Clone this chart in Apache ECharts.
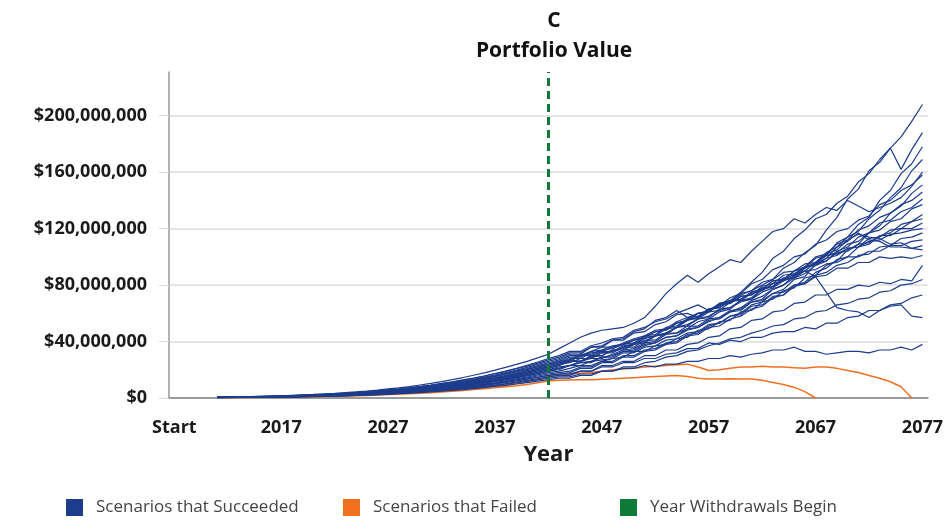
<!DOCTYPE html>
<html>
<head>
<meta charset="utf-8">
<script src="https://cdn.jsdelivr.net/npm/echarts@6.0.0/dist/echarts.min.js"></script>
<style>html,body{margin:0;padding:0;background:#fff}#c{width:946px;height:520px}</style>
</head>
<body>
<div id="c"></div>
<script>
// ---- categories / tick labels ----
const years = ['Start','2008','2009','2010','2011','2012','2013','2014','2015','2016','2017','2018','2019','2020','2021','2022','2023','2024','2025','2026','2027','2028','2029','2030','2031','2032','2033','2034','2035','2036','2037','2038','2039','2040','2041','2042','2043','2044','2045','2046','2047','2048','2049','2050','2051','2052','2053','2054','2055','2056','2057','2058','2059','2060','2061','2062','2063','2064','2065','2066','2067','2068','2069','2070','2071','2072','2073','2074','2075','2076','2077'];
const firstDataYear = '2011';
const withdrawalYear = '2042';
const yTickValues = [0, 40, 80, 120, 160, 200]; // millions of $
const yMax = 231;

// ---- series values, $ millions, 2011..2077 ----
const s01 = [0.6,0.7,0.9,1.0,1.2,1.4,1.6,1.9,2.2,2.5,2.9,3.3,3.8,4.3,4.9,5.6,6.4,7.2,8.1,9.2,10.3,11.6,13.0,14.5,16.1,17.8,19.7,21.7,23.8,26.0,28.4,31.0,35,39,43,46,48,49,50,53,57,65,74,81,87,82,88,93,98,96,104,111,118,120,127,124,130,135,133,140,136,132,135,138,142,150,160];
const s02 = [0.4,0.5,0.6,0.7,0.8,0.9,1.1,1.3,1.5,1.7,2.0,2.3,2.6,3.0,3.4,3.9,4.4,5.0,5.7,6.4,7.2,8.1,9.1,10.2,11.4,12.6,13.9,15.3,16.8,18.4,20.1,22.0,24,27,26,29,32,33,36,38,42,44,46,50,55,57,62,66,68,73,76,80,84,92,96,103,108,119,128,141,148,161,167,177,185,196,208];
const s03 = [0.5,0.5,0.6,0.7,0.8,1.0,1.1,1.3,1.5,1.8,2.0,2.3,2.7,3.1,3.5,4.0,4.6,5.2,5.9,6.6,7.5,8.4,9.4,10.5,11.7,13.0,14.4,15.9,17.5,19.3,21.1,23.0,25,28,28,32,33,36,38,41,43,47,48,53,55,60,61,67,69,75,82,89,99,104,113,119,127,130,138,143,153,159,169,177,162,176,188];
const s04 = [0.5,0.6,0.7,0.8,0.9,1.1,1.3,1.5,1.7,2.0,2.3,2.6,3.0,3.5,4.0,4.5,5.1,5.8,6.5,7.3,8.2,9.2,10.3,11.5,12.8,14.2,15.7,17.3,19.0,20.9,22.9,25.0,27,30,30,33,36,36,39,42,44,48,49,54,57,58,63,64,69,70,75,77,83,84,90,92,99,101,110,114,123,128,140,147,159,166,178];
const s05 = [0.4,0.4,0.5,0.6,0.7,0.8,0.9,1.1,1.3,1.5,1.7,2.0,2.3,2.6,3.0,3.4,3.9,4.4,5.0,5.6,6.3,7.1,8.0,9.0,10.0,11.1,12.3,13.6,15.0,16.5,18.2,20.0,22,23,26,28,28,31,34,35,39,40,45,46,49,54,56,61,63,69,70,77,79,85,85,92,96,103,107,114,118,127,133,142,149,161,169];
const s06 = [0.6,0.7,0.8,0.9,1.1,1.3,1.5,1.7,2.0,2.3,2.6,3.0,3.5,4.0,4.5,5.1,5.8,6.5,7.3,8.2,9.2,10.3,11.5,12.8,14.1,15.6,17.2,18.9,20.7,22.6,24.7,27.0,29,32,32,36,37,41,41,46,47,52,54,59,60,57,63,65,71,74,81,84,91,94,100,102,109,112,118,120,126,129,137,140,147,151,158];
const s07 = [0.3,0.4,0.5,0.5,0.6,0.7,0.8,1.0,1.1,1.3,1.5,1.8,2.1,2.4,2.7,3.1,3.5,4.0,4.5,5.1,5.7,6.4,7.2,8.0,8.9,9.9,11.0,12.2,13.5,14.9,16.4,18.0,19,21,23,23,26,28,29,33,33,37,38,42,43,48,49,54,55,61,62,68,70,76,78,85,87,94,97,105,109,117,122,131,136,145,151];
const s08 = [0.4,0.5,0.6,0.7,0.9,1.0,1.2,1.4,1.6,1.9,2.2,2.5,2.9,3.3,3.8,4.3,4.9,5.5,6.2,7.0,7.9,8.9,10.0,11.2,12.5,13.9,15.4,17.0,18.6,20.3,22.1,24.0,26,27,31,31,34,35,38,39,44,45,50,51,56,56,61,62,68,70,75,77,83,84,90,93,100,102,109,112,119,122,128,131,137,140,146];
const s09 = [0.4,0.5,0.5,0.6,0.7,0.8,1.0,1.1,1.3,1.5,1.8,2.0,2.3,2.7,3.1,3.5,4.0,4.6,5.2,5.9,6.7,7.5,8.4,9.4,10.5,11.7,13.0,14.4,15.9,17.5,19.2,21.0,23,26,26,29,30,34,34,38,39,44,45,50,51,56,57,63,64,69,71,77,79,85,87,93,95,101,103,109,111,117,119,125,127,134,137];
const s10 = [0.3,0.4,0.4,0.5,0.6,0.7,0.8,0.9,1.0,1.2,1.4,1.6,1.9,2.2,2.5,2.8,3.2,3.6,4.1,4.6,5.2,5.8,6.5,7.3,8.1,9.0,10.0,11.1,12.2,13.4,14.7,16.0,17,18,21,21,25,25,29,29,33,34,38,39,44,45,50,51,56,58,63,65,71,73,80,82,89,92,98,100,107,109,115,117,123,125,130];
const s11 = [0.5,0.6,0.6,0.7,0.8,1.0,1.1,1.3,1.5,1.8,2.1,2.4,2.7,3.1,3.6,4.1,4.6,5.2,5.9,6.6,7.4,8.3,9.3,10.4,11.6,12.9,14.3,15.8,17.4,19.2,21.0,23.0,25,26,30,30,33,33,37,38,43,44,49,50,56,57,63,64,69,69,74,76,81,83,88,90,96,97,103,104,109,110,115,115,120,120,124];
const s12 = [0.4,0.4,0.5,0.6,0.6,0.7,0.9,1.0,1.2,1.4,1.6,1.9,2.2,2.5,2.9,3.3,3.7,4.2,4.8,5.4,6.1,6.8,7.6,8.5,9.5,10.6,11.7,12.9,14.2,15.7,17.3,19.0,20,23,23,26,27,28,32,32,36,37,41,42,46,47,52,53,58,59,65,66,72,73,79,81,87,89,94,96,101,102,107,108,113,114,117];
const s13 = [0.5,0.6,0.7,0.8,1.0,1.1,1.3,1.5,1.8,2.0,2.3,2.7,3.1,3.6,4.1,4.7,5.3,6.0,6.8,7.7,8.7,9.7,10.8,12.0,13.3,14.8,16.3,18.0,19.8,21.7,23.8,26.0,28,31,31,36,36,41,42,47,49,55,57,62,57,60,61,66,67,72,73,78,79,84,85,90,91,95,96,100,100,104,104,108,108,111,112];
const s14 = [0.4,0.4,0.5,0.6,0.7,0.8,0.9,1.0,1.2,1.4,1.6,1.8,2.1,2.4,2.7,3.1,3.5,3.9,4.4,5.0,5.6,6.2,6.9,7.7,8.6,9.6,10.6,11.7,12.9,14.2,15.6,17.0,18,19,22,22,26,26,30,30,34,35,39,40,45,46,51,53,58,60,66,68,74,77,84,86,95,99,107,111,117,112,111,107,107,106,108];
const s15 = [0.5,0.5,0.6,0.7,0.8,0.9,1.0,1.2,1.4,1.6,1.9,2.2,2.5,2.9,3.3,3.8,4.3,4.9,5.5,6.2,7.0,7.9,8.9,10.0,11.2,12.5,13.8,15.2,16.7,18.3,20.1,22.0,24,25,28,28,32,32,36,36,41,41,46,46,51,51,56,57,62,63,68,69,74,75,80,81,86,87,92,92,96,96,100,99,100,99,101];
const s16 = [0.3,0.3,0.4,0.5,0.5,0.6,0.7,0.8,1.0,1.1,1.3,1.5,1.7,2.0,2.3,2.6,3.0,3.4,3.8,4.3,4.8,5.4,6.0,6.7,7.5,8.3,9.2,10.2,11.3,12.5,13.7,15.0,16,16,19,19,23,23,26,26,30,30,34,34,38,39,43,44,49,50,55,56,61,62,67,68,73,73,77,77,80,79,82,81,84,83,94];
const s17 = [0.3,0.3,0.4,0.4,0.5,0.6,0.6,0.7,0.9,1.0,1.2,1.3,1.5,1.8,2.0,2.3,2.6,3.0,3.4,3.8,4.3,4.8,5.4,6.0,6.7,7.4,8.2,9.0,9.9,10.9,11.9,13.0,14,14,16,16,19,19,22,22,25,26,29,30,33,34,37,39,42,43,46,48,51,52,56,57,61,62,66,67,70,71,75,76,80,81,84];
const s18 = [0.4,0.4,0.5,0.6,0.6,0.7,0.8,1.0,1.1,1.3,1.5,1.7,2.0,2.3,2.6,3.0,3.4,3.8,4.3,4.8,5.4,6.0,6.7,7.5,8.3,9.2,10.2,11.2,12.3,13.5,14.7,16.0,17,17,19,19,22,22,25,25,28,28,31,32,35,35,39,38,41,40,43,43,46,47,47,50,49,53,53,57,58,62,62,66,67,71,73];
const s19 = [0.4,0.5,0.6,0.7,0.8,0.9,1.0,1.2,1.4,1.6,1.9,2.1,2.4,2.8,3.2,3.6,4.1,4.7,5.3,5.9,6.6,7.4,8.3,9.3,10.3,11.4,12.6,13.9,15.3,16.8,18.4,20.0,21,23,25,26,29,30,33,34,38,39,43,44,49,50,55,56,61,62,68,70,77,80,87,90,86,75,64,62,61,57,62,65,66,58,57];
const s20 = [0.3,0.4,0.4,0.5,0.5,0.6,0.7,0.8,0.9,1.1,1.2,1.4,1.6,1.9,2.1,2.4,2.8,3.2,3.6,4.1,4.6,5.2,5.8,6.5,7.2,8.0,8.9,9.8,10.8,11.8,12.9,14.0,15,15,17,17,19,19,21,21,23,22,24,24,26,26,28,28,30,29,31,32,34,34,36,33,33,31,32,33,33,32,34,34,36,34,38];
const s21 = [0.5,0.6,0.7,0.8,0.9,1.0,1.2,1.4,1.6,1.8,2.1,2.4,2.8,3.2,3.7,4.2,4.8,5.4,6.1,6.9,7.8,8.8,9.9,11.1,12.4,13.8,15.3,16.9,18.5,20.2,22.0,24.0,26,29,29,33,34,37,38,41,43,47,48,53,55,60,62,67,68,74,76,82,84,89,90,95,96,101,102,106,107,111,112,116,117,119,120];
const s22 = [0.5,0.6,0.7,0.9,1.0,1.2,1.4,1.6,1.9,2.2,2.5,2.9,3.3,3.8,4.3,4.9,5.6,6.3,7.1,8.0,9.0,10.1,11.3,12.6,14.0,15.6,17.3,19.1,21.1,23.2,25.5,28.0,30,33,33,37,39,42,43,48,50,54,56,60,63,66,62,66,67,72,73,79,81,87,88,93,94,99,101,106,107,113,114,119,120,125,127];
const s23 = [0.5,0.5,0.6,0.7,0.8,0.9,1.0,1.1,1.3,1.5,1.7,2.0,2.3,2.6,3.0,3.4,3.9,4.4,5.0,5.6,6.3,7.0,7.8,8.7,9.7,10.7,11.8,13.0,14.4,15.8,17.4,19.0,21,23,25,25,29,29,33,33,37,39,43,44,48,50,54,57,61,64,69,72,77,80,85,88,94,97,104,107,114,117,124,126,132,135,141];
const s24 = [0.5,0.6,0.7,0.8,0.9,1.0,1.1,1.3,1.5,1.7,2.0,2.3,2.6,3.0,3.4,3.8,4.3,4.8,5.4,6.1,6.8,7.6,8.5,9.5,10.6,11.8,13.1,14.5,16.0,17.6,19.3,21.0,23,26,26,30,30,34,35,39,40,44,46,50,52,56,58,62,64,68,70,75,78,83,86,92,96,102,105,112,116,114,113,109,110,106,105];
const f01 = [0.3,0.3,0.4,0.4,0.5,0.5,0.6,0.7,0.8,0.9,1.0,1.2,1.4,1.6,1.8,2.1,2.4,2.7,3.0,3.4,3.8,4.3,4.8,5.4,6.0,6.6,7.2,7.9,8.6,9.6,10.8,12.0,12.5,12.8,13,13,13.3,13.6,14,14.4,14.8,15.2,15.6,16,15.2,14,13.5,13.5,13.6,13.5,13.4,12.5,11,9.5,7.5,4.5,0,null,null,null,null,null,null,null,null,null,null];
const f02 = [0.3,0.4,0.4,0.5,0.5,0.6,0.7,0.8,0.9,1.0,1.2,1.4,1.6,1.8,2.1,2.4,2.7,3.1,3.5,3.9,4.4,4.9,5.5,6.1,6.8,7.5,8.3,9.1,10.3,11.6,13.2,15.0,16,17,17.5,18,19,20,20.5,21,22,22.5,23,23.5,24,22,19.5,20,21,22,22,22.5,22,22,21.5,21,22,22,21,19.5,18,16,14,11.5,8,0,null];

const succeeded = [s01,s02,s03,s04,s05,s06,s07,s08,s09,s10,s11,s12,s13,s14,s15,s16,s17,s18,s19,s20,s21,s22,s23,s24];
const failed = [f01,f02];

const NAME_OK = 'Scenarios that Succeeded';
const NAME_FAIL = 'Scenarios that Failed';
const NAME_WD = 'Year Withdrawals Begin';
const BLUE = '#1d3c8c', ORANGE = '#f07020', GREEN = '#0e7a38';

const pad = years.indexOf(firstDataYear);
const full = arr => new Array(pad).fill(null).concat(arr);
const FONT = 'Open Sans';

const series = [];
succeeded.forEach(a => series.push({
  type: 'line', name: NAME_OK, data: full(a), showSymbol: false, symbol: 'none',
  lineStyle: { color: BLUE, width: 1.2 }, itemStyle: { color: BLUE }, z: 3,
  emphasis: { disabled: true }
}));
failed.forEach(a => series.push({
  type: 'line', name: NAME_FAIL, data: full(a), showSymbol: false, symbol: 'none',
  lineStyle: { color: ORANGE, width: 1.5 }, itemStyle: { color: ORANGE }, z: 2,
  emphasis: { disabled: true }
}));
series.push({
  type: 'line', name: NAME_WD, data: years.map(() => null), symbol: 'none',
  lineStyle: { color: GREEN }, itemStyle: { color: GREEN }, z: 5,
  markLine: {
    silent: true, symbol: ['none', 'none'], label: { show: false },
    lineStyle: { color: GREEN, width: 3, type: [8, 5] },
    data: [{ xAxis: withdrawalYear }]
  }
});

const splitColors = [];
yTickValues.forEach(() => splitColors.push('#dcdcdc'));
splitColors.push('rgba(0,0,0,0)');

const legendBase = {
  top: 494, icon: 'rect', itemWidth: 17, itemHeight: 17, itemGap: 0, selectedMode: false,
  textStyle: { fontFamily: FONT, fontSize: 17, color: '#444', padding: [0, 0, 0, 8] }
};

const chart = echarts.init(document.getElementById('c'), null, { renderer: 'canvas' });
chart.setOption({
  animation: false,
  backgroundColor: '#fff',
  title: {
    text: 'C\nPortfolio Value', left: 549, top: 1, textAlign: 'center',
    textStyle: { fontFamily: FONT, fontWeight: 'bold', fontSize: 21, color: '#111', lineHeight: 30 }
  },
  legend: [
    Object.assign({}, legendBase, { data: [NAME_OK], left: 61 }),
    Object.assign({}, legendBase, { data: [NAME_FAIL], left: 338 }),
    Object.assign({}, legendBase, { data: [NAME_WD], left: 615 })
  ],
  grid: { left: 169, right: 16, top: 72, bottom: 122, containLabel: false },
  xAxis: {
    type: 'category', data: years, boundaryGap: true,
    axisLine: { lineStyle: { color: '#9a9a9a', width: 2 } },
    axisTick: { alignWithLabel: true, interval: 0, length: 9, lineStyle: { color: '#8a8a8a' } },
    axisLabel: { interval: 9, margin: 21, fontFamily: FONT, fontWeight: 'bold', fontSize: 18, color: '#1a1a1a' },
    name: 'Year', nameLocation: 'middle', nameGap: 46,
    nameTextStyle: { fontFamily: FONT, fontWeight: 'bold', fontSize: 22, color: '#1a1a1a' },
    splitLine: { show: false }
  },
  yAxis: {
    type: 'value', min: 0, max: yMax, interval: 40,
    axisLine: { show: true, lineStyle: { color: '#9a9a9a', width: 1.5 } },
    axisTick: { show: true, length: 10, lineStyle: { color: '#dcdcdc' } },
    splitLine: { show: true, lineStyle: { color: splitColors, width: 1.5 } },
    axisLabel: {
      margin: 22, showMaxLabel: false, fontFamily: FONT, fontWeight: 'bold', fontSize: 18, color: '#1a1a1a',
      formatter: v => yTickValues.indexOf(v) < 0 ? '' : (v === 0 ? '$0' : '$' + v + ',000,000')
    }
  },
  series: series
});
</script>
</body>
</html>
